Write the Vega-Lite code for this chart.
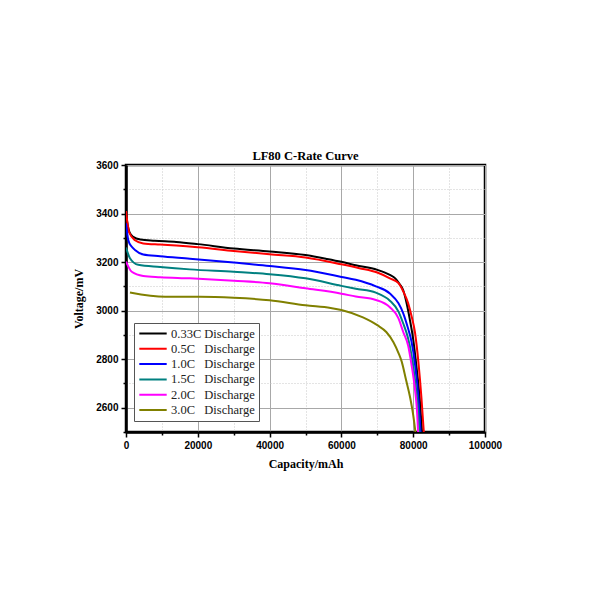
{
  "$schema": "https://vega.github.io/schema/vega-lite/v6.json",
  "autosize": "none",
  "width": 359,
  "height": 267,
  "padding": {"left": 126, "top": 165, "right": 115, "bottom": 168},
  "background": "white",
  "config": {
    "view": {"stroke": "black", "strokeWidth": 2.5},
    "axis": {
      "labelFont": "Liberation Sans",
      "labelFontWeight": "bold",
      "labelFontSize": 10,
      "labelColor": "black",
      "titleFont": "Liberation Serif",
      "titleFontWeight": "bold",
      "titleFontSize": 12,
      "titleColor": "black",
      "domainColor": "black",
      "domainWidth": 2.5,
      "tickColor": "black",
      "tickWidth": 1.5
    }
  },
  "title": {
    "text": "LF80 C-Rate Curve",
    "font": "Liberation Serif",
    "fontWeight": "bold",
    "fontSize": 12.5,
    "color": "black",
    "anchor": "middle",
    "offset": -2
  },
  "data": {
    "values": [
      {"series": "0.33C Discharge", "x": 0, "v": 3400},
      {"series": "0.33C Discharge", "x": 500, "v": 3350},
      {"series": "0.33C Discharge", "x": 1000, "v": 3322},
      {"series": "0.33C Discharge", "x": 2000, "v": 3304},
      {"series": "0.33C Discharge", "x": 4000, "v": 3293},
      {"series": "0.33C Discharge", "x": 8000, "v": 3288},
      {"series": "0.33C Discharge", "x": 14000, "v": 3283},
      {"series": "0.33C Discharge", "x": 20000, "v": 3274},
      {"series": "0.33C Discharge", "x": 30000, "v": 3256},
      {"series": "0.33C Discharge", "x": 40000, "v": 3244},
      {"series": "0.33C Discharge", "x": 50000, "v": 3229},
      {"series": "0.33C Discharge", "x": 56000, "v": 3213},
      {"series": "0.33C Discharge", "x": 60000, "v": 3201},
      {"series": "0.33C Discharge", "x": 64000, "v": 3187},
      {"series": "0.33C Discharge", "x": 70000, "v": 3168},
      {"series": "0.33C Discharge", "x": 73500, "v": 3147},
      {"series": "0.33C Discharge", "x": 75000, "v": 3133},
      {"series": "0.33C Discharge", "x": 76300, "v": 3108},
      {"series": "0.33C Discharge", "x": 77200, "v": 3085},
      {"series": "0.33C Discharge", "x": 78200, "v": 3028},
      {"series": "0.33C Discharge", "x": 79000, "v": 2968},
      {"series": "0.33C Discharge", "x": 80000, "v": 2882},
      {"series": "0.33C Discharge", "x": 81000, "v": 2758},
      {"series": "0.33C Discharge", "x": 81800, "v": 2640},
      {"series": "0.33C Discharge", "x": 82500, "v": 2490},

      {"series": "0.5C\u00a0\u00a0\u00a0Discharge", "x": 0, "v": 3410},
      {"series": "0.5C\u00a0\u00a0\u00a0Discharge", "x": 500, "v": 3352},
      {"series": "0.5C\u00a0\u00a0\u00a0Discharge", "x": 900, "v": 3322},
      {"series": "0.5C\u00a0\u00a0\u00a0Discharge", "x": 2500, "v": 3290},
      {"series": "0.5C\u00a0\u00a0\u00a0Discharge", "x": 4800, "v": 3277},
      {"series": "0.5C\u00a0\u00a0\u00a0Discharge", "x": 9500, "v": 3272},
      {"series": "0.5C\u00a0\u00a0\u00a0Discharge", "x": 14000, "v": 3268},
      {"series": "0.5C\u00a0\u00a0\u00a0Discharge", "x": 20000, "v": 3261},
      {"series": "0.5C\u00a0\u00a0\u00a0Discharge", "x": 30000, "v": 3246},
      {"series": "0.5C\u00a0\u00a0\u00a0Discharge", "x": 40000, "v": 3232},
      {"series": "0.5C\u00a0\u00a0\u00a0Discharge", "x": 50000, "v": 3219},
      {"series": "0.5C\u00a0\u00a0\u00a0Discharge", "x": 60000, "v": 3191},
      {"series": "0.5C\u00a0\u00a0\u00a0Discharge", "x": 65000, "v": 3175},
      {"series": "0.5C\u00a0\u00a0\u00a0Discharge", "x": 70000, "v": 3157},
      {"series": "0.5C\u00a0\u00a0\u00a0Discharge", "x": 73500, "v": 3133},
      {"series": "0.5C\u00a0\u00a0\u00a0Discharge", "x": 75900, "v": 3113},
      {"series": "0.5C\u00a0\u00a0\u00a0Discharge", "x": 77200, "v": 3080},
      {"series": "0.5C\u00a0\u00a0\u00a0Discharge", "x": 78600, "v": 3030},
      {"series": "0.5C\u00a0\u00a0\u00a0Discharge", "x": 79500, "v": 2980},
      {"series": "0.5C\u00a0\u00a0\u00a0Discharge", "x": 80500, "v": 2910},
      {"series": "0.5C\u00a0\u00a0\u00a0Discharge", "x": 81500, "v": 2780},
      {"series": "0.5C\u00a0\u00a0\u00a0Discharge", "x": 82300, "v": 2640},
      {"series": "0.5C\u00a0\u00a0\u00a0Discharge", "x": 83000, "v": 2490},

      {"series": "1.0C\u00a0\u00a0\u00a0Discharge", "x": 0, "v": 3360},
      {"series": "1.0C\u00a0\u00a0\u00a0Discharge", "x": 650, "v": 3290},
      {"series": "1.0C\u00a0\u00a0\u00a0Discharge", "x": 1500, "v": 3265},
      {"series": "1.0C\u00a0\u00a0\u00a0Discharge", "x": 2500, "v": 3250},
      {"series": "1.0C\u00a0\u00a0\u00a0Discharge", "x": 4800, "v": 3231},
      {"series": "1.0C\u00a0\u00a0\u00a0Discharge", "x": 9500, "v": 3224},
      {"series": "1.0C\u00a0\u00a0\u00a0Discharge", "x": 17800, "v": 3214},
      {"series": "1.0C\u00a0\u00a0\u00a0Discharge", "x": 30000, "v": 3198},
      {"series": "1.0C\u00a0\u00a0\u00a0Discharge", "x": 40000, "v": 3184},
      {"series": "1.0C\u00a0\u00a0\u00a0Discharge", "x": 50000, "v": 3167},
      {"series": "1.0C\u00a0\u00a0\u00a0Discharge", "x": 60000, "v": 3139},
      {"series": "1.0C\u00a0\u00a0\u00a0Discharge", "x": 64000, "v": 3127},
      {"series": "1.0C\u00a0\u00a0\u00a0Discharge", "x": 69600, "v": 3100},
      {"series": "1.0C\u00a0\u00a0\u00a0Discharge", "x": 73500, "v": 3071},
      {"series": "1.0C\u00a0\u00a0\u00a0Discharge", "x": 75900, "v": 3030},
      {"series": "1.0C\u00a0\u00a0\u00a0Discharge", "x": 77200, "v": 2990},
      {"series": "1.0C\u00a0\u00a0\u00a0Discharge", "x": 78600, "v": 2925},
      {"series": "1.0C\u00a0\u00a0\u00a0Discharge", "x": 79500, "v": 2875},
      {"series": "1.0C\u00a0\u00a0\u00a0Discharge", "x": 80500, "v": 2780},
      {"series": "1.0C\u00a0\u00a0\u00a0Discharge", "x": 81500, "v": 2630},
      {"series": "1.0C\u00a0\u00a0\u00a0Discharge", "x": 82100, "v": 2490},

      {"series": "1.5C\u00a0\u00a0\u00a0Discharge", "x": 0, "v": 3260},
      {"series": "1.5C\u00a0\u00a0\u00a0Discharge", "x": 1100, "v": 3216},
      {"series": "1.5C\u00a0\u00a0\u00a0Discharge", "x": 3400, "v": 3189},
      {"series": "1.5C\u00a0\u00a0\u00a0Discharge", "x": 9500, "v": 3180},
      {"series": "1.5C\u00a0\u00a0\u00a0Discharge", "x": 17800, "v": 3170},
      {"series": "1.5C\u00a0\u00a0\u00a0Discharge", "x": 30000, "v": 3160},
      {"series": "1.5C\u00a0\u00a0\u00a0Discharge", "x": 40000, "v": 3150},
      {"series": "1.5C\u00a0\u00a0\u00a0Discharge", "x": 50000, "v": 3133},
      {"series": "1.5C\u00a0\u00a0\u00a0Discharge", "x": 60000, "v": 3102},
      {"series": "1.5C\u00a0\u00a0\u00a0Discharge", "x": 64000, "v": 3090},
      {"series": "1.5C\u00a0\u00a0\u00a0Discharge", "x": 69600, "v": 3074},
      {"series": "1.5C\u00a0\u00a0\u00a0Discharge", "x": 73500, "v": 3041},
      {"series": "1.5C\u00a0\u00a0\u00a0Discharge", "x": 75900, "v": 2996},
      {"series": "1.5C\u00a0\u00a0\u00a0Discharge", "x": 77200, "v": 2948},
      {"series": "1.5C\u00a0\u00a0\u00a0Discharge", "x": 78500, "v": 2890},
      {"series": "1.5C\u00a0\u00a0\u00a0Discharge", "x": 79500, "v": 2820},
      {"series": "1.5C\u00a0\u00a0\u00a0Discharge", "x": 80500, "v": 2715},
      {"series": "1.5C\u00a0\u00a0\u00a0Discharge", "x": 81300, "v": 2600},
      {"series": "1.5C\u00a0\u00a0\u00a0Discharge", "x": 81800, "v": 2490},

      {"series": "2.0C\u00a0\u00a0\u00a0Discharge", "x": 0, "v": 3202},
      {"series": "2.0C\u00a0\u00a0\u00a0Discharge", "x": 1600, "v": 3160},
      {"series": "2.0C\u00a0\u00a0\u00a0Discharge", "x": 4800, "v": 3143},
      {"series": "2.0C\u00a0\u00a0\u00a0Discharge", "x": 9500, "v": 3138},
      {"series": "2.0C\u00a0\u00a0\u00a0Discharge", "x": 17800, "v": 3133},
      {"series": "2.0C\u00a0\u00a0\u00a0Discharge", "x": 30000, "v": 3123},
      {"series": "2.0C\u00a0\u00a0\u00a0Discharge", "x": 40000, "v": 3113},
      {"series": "2.0C\u00a0\u00a0\u00a0Discharge", "x": 50000, "v": 3092},
      {"series": "2.0C\u00a0\u00a0\u00a0Discharge", "x": 60000, "v": 3070},
      {"series": "2.0C\u00a0\u00a0\u00a0Discharge", "x": 64000, "v": 3058},
      {"series": "2.0C\u00a0\u00a0\u00a0Discharge", "x": 69600, "v": 3044},
      {"series": "2.0C\u00a0\u00a0\u00a0Discharge", "x": 73500, "v": 3014},
      {"series": "2.0C\u00a0\u00a0\u00a0Discharge", "x": 75900, "v": 2968},
      {"series": "2.0C\u00a0\u00a0\u00a0Discharge", "x": 77200, "v": 2913},
      {"series": "2.0C\u00a0\u00a0\u00a0Discharge", "x": 78600, "v": 2855},
      {"series": "2.0C\u00a0\u00a0\u00a0Discharge", "x": 79500, "v": 2780},
      {"series": "2.0C\u00a0\u00a0\u00a0Discharge", "x": 80500, "v": 2675},
      {"series": "2.0C\u00a0\u00a0\u00a0Discharge", "x": 81000, "v": 2600},
      {"series": "2.0C\u00a0\u00a0\u00a0Discharge", "x": 81400, "v": 2490},

      {"series": "3.0C\u00a0\u00a0\u00a0Discharge", "x": 1100, "v": 3075},
      {"series": "3.0C\u00a0\u00a0\u00a0Discharge", "x": 10900, "v": 3057},
      {"series": "3.0C\u00a0\u00a0\u00a0Discharge", "x": 20600, "v": 3057},
      {"series": "3.0C\u00a0\u00a0\u00a0Discharge", "x": 30000, "v": 3053},
      {"series": "3.0C\u00a0\u00a0\u00a0Discharge", "x": 40000, "v": 3043},
      {"series": "3.0C\u00a0\u00a0\u00a0Discharge", "x": 50000, "v": 3022},
      {"series": "3.0C\u00a0\u00a0\u00a0Discharge", "x": 57000, "v": 3011},
      {"series": "3.0C\u00a0\u00a0\u00a0Discharge", "x": 60000, "v": 3003},
      {"series": "3.0C\u00a0\u00a0\u00a0Discharge", "x": 66000, "v": 2972},
      {"series": "3.0C\u00a0\u00a0\u00a0Discharge", "x": 70000, "v": 2940},
      {"series": "3.0C\u00a0\u00a0\u00a0Discharge", "x": 72500, "v": 2912},
      {"series": "3.0C\u00a0\u00a0\u00a0Discharge", "x": 74500, "v": 2870},
      {"series": "3.0C\u00a0\u00a0\u00a0Discharge", "x": 76000, "v": 2822},
      {"series": "3.0C\u00a0\u00a0\u00a0Discharge", "x": 76800, "v": 2790},
      {"series": "3.0C\u00a0\u00a0\u00a0Discharge", "x": 78000, "v": 2715},
      {"series": "3.0C\u00a0\u00a0\u00a0Discharge", "x": 79100, "v": 2645},
      {"series": "3.0C\u00a0\u00a0\u00a0Discharge", "x": 80000, "v": 2570},
      {"series": "3.0C\u00a0\u00a0\u00a0Discharge", "x": 80700, "v": 2490}
    ]
  },
  "mark": {"type": "line", "strokeWidth": 2, "clip": true, "interpolate": "monotone"},
  "encoding": {
    "x": {
      "field": "x",
      "type": "quantitative",
      "title": "Capacity/mAh",
      "scale": {"domain": [0, 100000], "nice": false},
      "axis": {
        "values": [0, 10000, 20000, 30000, 40000, 50000, 60000, 70000, 80000, 90000, 100000],
        "labelExpr": "datum.value % 20000 === 0 ? datum.value : ''",
        "labelFlush": false,
        "labelPadding": 3,
        "titlePadding": 8,
        "tickSize": {"condition": {"test": "datum.value % 20000 === 0", "value": 5}, "value": 3},
        "gridColor": {"condition": {"test": "datum.value % 20000 === 0", "value": "#a8a8a8"}, "value": "#c8c8c8"},
        "gridDash": {"condition": {"test": "datum.value % 20000 === 0", "value": []}, "value": [1, 2]},
        "gridWidth": 1
      }
    },
    "y": {
      "field": "v",
      "type": "quantitative",
      "title": "Voltage/mV",
      "scale": {"domain": [2500, 3600], "nice": false, "zero": false},
      "axis": {
        "values": [2500, 2600, 2700, 2800, 2900, 3000, 3100, 3200, 3300, 3400, 3500, 3600],
        "labelExpr": "datum.value % 200 === 0 ? datum.value : ''",
        "labelPadding": 3,
        "titlePadding": 10,
        "tickSize": {"condition": {"test": "datum.value % 200 === 0", "value": 5}, "value": 3},
        "gridColor": {"condition": {"test": "datum.value % 200 === 0", "value": "#a8a8a8"}, "value": "#c8c8c8"},
        "gridDash": {"condition": {"test": "datum.value % 200 === 0", "value": []}, "value": [1, 2]},
        "gridWidth": 1
      }
    },
    "color": {
      "field": "series",
      "type": "nominal",
      "sort": null,
      "scale": {
        "domain": [
          "0.33C Discharge",
          "0.5C\u00a0\u00a0\u00a0Discharge",
          "1.0C\u00a0\u00a0\u00a0Discharge",
          "1.5C\u00a0\u00a0\u00a0Discharge",
          "2.0C\u00a0\u00a0\u00a0Discharge",
          "3.0C\u00a0\u00a0\u00a0Discharge"
        ],
        "range": ["#000000", "#ff0000", "#0000ff", "#008080", "#ff00ff", "#808000"]
      },
      "legend": {
        "title": null,
        "orient": "none",
        "legendX": 8,
        "legendY": 158,
        "strokeColor": "#555555",
        "padding": 4,
        "symbolType": "stroke",
        "symbolSize": 750,
        "symbolStrokeWidth": 2,
        "clipHeight": 13,
        "labelFont": "Liberation Serif",
        "labelFontSize": 12.5,
        "labelColor": "#222222",
        "labelOffset": 3,
        "rowPadding": 2.3,
        "fillColor": "white"
      }
    }
  }
}
